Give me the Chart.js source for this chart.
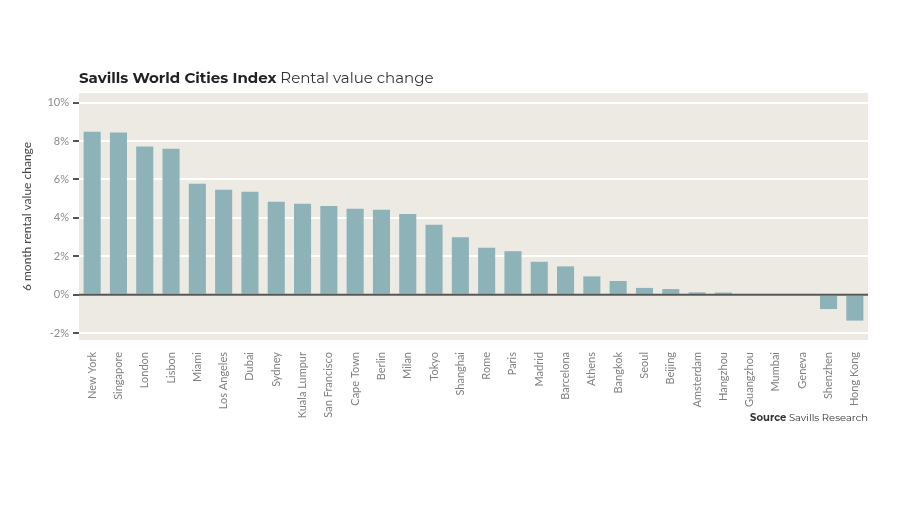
<!DOCTYPE html>
<html><head><meta charset="utf-8">
<script src="https://cdn.jsdelivr.net/npm/chart.js@4/dist/chart.umd.min.js"></script>
<style>
html,body{margin:0;padding:0;background:#fff;width:900px;height:507px;overflow:hidden;font-family:"Montserrat","Lato","Open Sans",sans-serif;}
#wrap{position:relative;width:900px;height:507px;}
#title{position:absolute;left:79px;top:68px;font-size:15px;color:#222;white-space:nowrap;}
#title b{font-weight:700;}
#title span{font-weight:400;color:#333;}
#source{position:absolute;right:32px;top:411px;font-size:10px;color:#333;white-space:nowrap;}
canvas{position:absolute;left:0;top:0;}
</style></head>
<body><div id="wrap">
<canvas id="c" width="900" height="507"></canvas>
<div id="title"><b>Savills World Cities Index</b> <span>Rental value change</span></div>
<div id="source"><b>Source</b> Savills Research</div>
</div>
<script>
const cities = ["New York","Singapore","London","Lisbon","Miami","Los Angeles","Dubai","Sydney","Kuala Lumpur","San Francisco","Cape Town","Berlin","Milan","Tokyo","Shanghai","Rome","Paris","Madrid","Barcelona","Athens","Bangkok","Seoul","Beijing","Amsterdam","Hangzhou","Guangzhou","Mumbai","Geneva","Shenzhen","Hong Kong"];
const rentalChange = [8.49,8.44,7.72,7.6,5.78,5.47,5.36,4.84,4.74,4.62,4.48,4.43,4.2,3.65,3.0,2.45,2.27,1.72,1.48,0.96,0.72,0.36,0.3,0.13,0.12,0.05,0,0,-0.74,-1.34];
const yTicks = [-2,0,2,4,6,8,10];

const bgPlugin = {
  id:'bg',
  beforeDraw(chart){
    const a = chart.chartArea, ctx = chart.ctx;
    ctx.save(); ctx.fillStyle = '#EDEAE4';
    ctx.fillRect(a.left, a.top, a.right-a.left, a.bottom-a.top);
    ctx.restore();
  }
};
const zeroPlugin = {
  id:'zero',
  afterDatasetsDraw(chart){
    const a = chart.chartArea, ctx = chart.ctx, y = chart.scales.y.getPixelForValue(0);
    ctx.save(); ctx.strokeStyle = '#555'; ctx.lineWidth = 2;
    ctx.beginPath(); ctx.moveTo(a.left, y); ctx.lineTo(a.right, y); ctx.stroke();
    ctx.restore();
  }
};

new Chart(document.getElementById('c'), {
  type:'bar',
  data:{labels:cities, datasets:[{data:rentalChange, backgroundColor:'#8DB3B9', borderWidth:0, categoryPercentage:1, barPercentage:0.65}]},
  options:{
    responsive:false, animation:false,
    layout:{padding:{left:20,right:32,top:93,bottom:87}},
    plugins:{legend:{display:false}, tooltip:{enabled:false}},
    scales:{
      x:{
        grid:{display:false}, border:{display:false},
        ticks:{maxRotation:90,minRotation:90,autoSkip:false,color:'#808080',padding:4,font:{family:'Lato',size:11}},
        afterFit(s){s.height=80;}
      },
      y:{
        min:-2.35, max:10.5,
        afterBuildTicks(s){s.ticks = yTicks.map(v=>({value:v}));},
        grid:{color:'#FFFFFF', lineWidth:2, drawTicks:true, tickLength:6, tickColor:'#555', tickWidth:2},
        border:{display:false},
        ticks:{color:'#8a8a8a',padding:4,font:{family:'Lato',size:11},callback:v=>v+'%'},
        title:{display:true,text:'6 month rental value change',color:'#444',font:{family:'Lato',size:12},padding:{top:0,bottom:4}},
        afterFit(s){s.width=59;}
      }
    }
  },
  plugins:[bgPlugin, zeroPlugin]
});
</script>
</body></html>
